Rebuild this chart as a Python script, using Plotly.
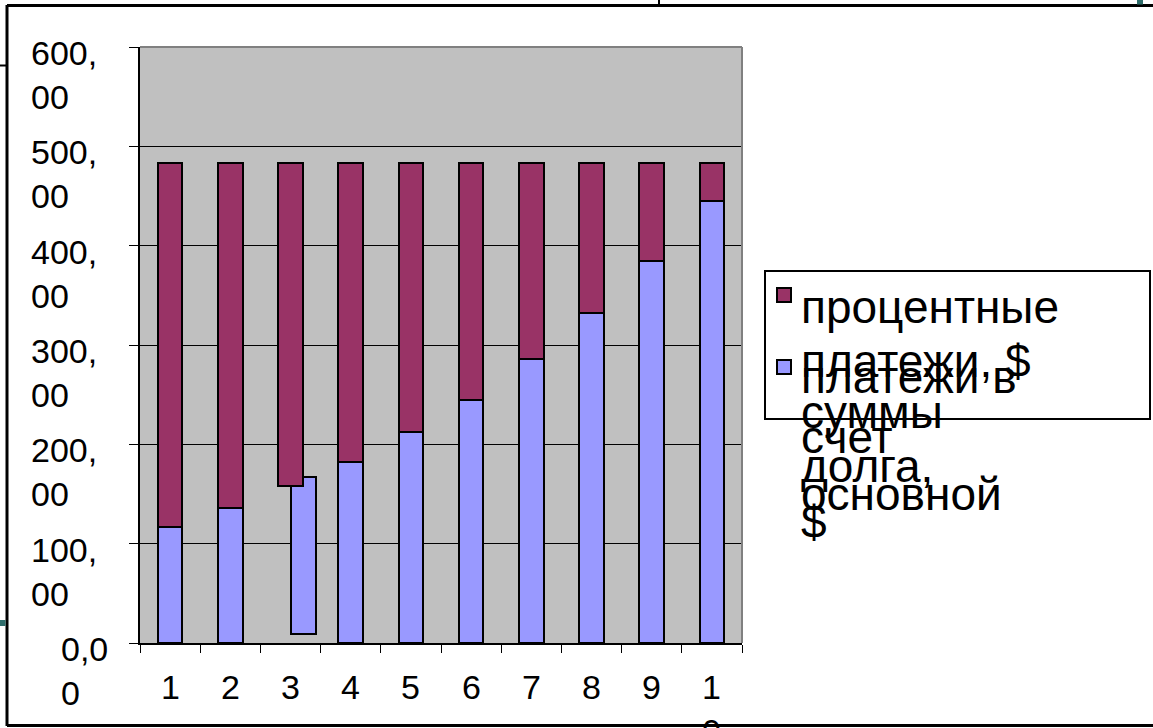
import plotly.graph_objects as go

# ---- data ----
periods = [1, 2, 3, 4, 5, 6, 7, 8, 9, 10]
period_labels = ["1", "2", "3", "4", "5", "6", "7", "8", "9", "1<br>0"]
principal = [117, 136, 158, 182, 212, 245, 286, 332, 385, 445]      # платежи в счет основной суммы долга, $
interest = [366, 347, 325, 301, 271, 238, 197, 151, 98, 38]         # процентные платежи, $
principal_float = [0, 0, 9, 0, 0, 0, 0, 0, 0, 0]                    # bar 3 blue part floats above zero in the original
y_ticks = [0, 100, 200, 300, 400, 500, 600]
y_tick_labels = ["0,0<br>0", "100,<br>00", "200,<br>00", "300,<br>00", "400,<br>00", "500,<br>00", "600,<br>00"]
legend_lines_interest = ["процентные", "платежи, $"]
legend_lines_principal = ["платежи в", "суммы", "счет", "долга,", "основной", "$"]

# ---- geometry (pixels) ----
W, H = 1153, 728
L, R, T, B = 140, 742, 47, 643
FONT = "Arial, 'Liberation Sans', sans-serif"
MAROON = "#993366"
BLUE = "#9999FF"
TEAL = "#2F6E6C"


def px(x):
    return (x - L) / (R - L)


def py(y):
    return (B - y) / (B - T)


bar_w = 0.41
shift_idx = 2
shift_amt = 0.215
blue_offsets = [-bar_w / 2 + (shift_amt if i == shift_idx else 0) for i in range(len(periods))]

fig = go.Figure()
fig.add_trace(go.Bar(
    x=periods, y=principal, base=principal_float, width=bar_w, offset=blue_offsets,
    marker=dict(color=BLUE, line=dict(color="black", width=2)),
    showlegend=False, name="платежи в счет основной суммы долга, $"))
fig.add_trace(go.Bar(
    x=periods, y=interest, base=principal, width=bar_w, offset=[-bar_w / 2] * len(periods),
    marker=dict(color=MAROON, line=dict(color="black", width=2)),
    showlegend=False, name="процентные платежи, $"))

shapes = []
# plot-area grey border (top and right)
shapes.append(dict(type="line", xref="paper", yref="paper", x0=0, x1=1, y0=1, y1=1,
                   line=dict(color="#808080", width=2)))
shapes.append(dict(type="line", xref="paper", yref="paper", x0=1, x1=1, y0=0, y1=1,
                   line=dict(color="#808080", width=2)))
# slide frame
shapes.append(dict(type="line", xref="paper", yref="paper", x0=px(7), x1=px(1160), y0=py(5.5), y1=py(5.5),
                   line=dict(color="black", width=3)))
shapes.append(dict(type="line", xref="paper", yref="paper", x0=px(7), x1=px(7), y0=py(5), y1=py(726),
                   line=dict(color="black", width=3)))
shapes.append(dict(type="line", xref="paper", yref="paper", x0=px(7), x1=px(1160), y0=py(725.5), y1=py(725.5),
                   line=dict(color="black", width=3)))
# small slide decorations
shapes.append(dict(type="line", xref="paper", yref="paper", x0=px(0), x1=px(7), y0=py(65.5), y1=py(65.5),
                   line=dict(color="black", width=2)))
shapes.append(dict(type="rect", xref="paper", yref="paper", x0=px(0), x1=px(5.5), y0=py(620), y1=py(626),
                   line=dict(width=0), fillcolor=TEAL))
shapes.append(dict(type="rect", xref="paper", yref="paper", x0=px(1137), x1=px(1143), y0=py(0), y1=py(4.5),
                   line=dict(width=0), fillcolor=TEAL))
shapes.append(dict(type="line", xref="paper", yref="paper", x0=px(659), x1=px(659), y0=py(0), y1=py(5),
                   line=dict(color="black", width=2)))
# legend box and keys
shapes.append(dict(type="rect", xref="paper", yref="paper", x0=px(765), x1=px(1150), y0=py(271), y1=py(419),
                   line=dict(color="black", width=2), fillcolor="white"))
shapes.append(dict(type="rect", xref="paper", yref="paper", x0=px(777), x1=px(791), y0=py(288), y1=py(302),
                   line=dict(color="black", width=2), fillcolor=MAROON))
shapes.append(dict(type="rect", xref="paper", yref="paper", x0=px(777), x1=px(791), y0=py(360), y1=py(374),
                   line=dict(color="black", width=2), fillcolor=BLUE))

annotations = []
AX = 34
# y tick labels
for v, t in zip(y_ticks, y_tick_labels):
    annotations.append(dict(text=t, xref="paper", yref="y", x=px(59 if v == 0 else 29), y=v,
                            xanchor="left", yanchor="middle", yshift=-28, align="left",
                            showarrow=False, font=dict(family=FONT, size=AX, color="black")))
# x tick labels
for xv, t in zip(periods, period_labels):
    nlines = t.count("<br>") + 1
    base_line = 699
    center = base_line - 0.35 * AX + (nlines - 1) * 0.65 * AX
    annotations.append(dict(text=t, xref="x", yref="paper", x=xv, y=py(center),
                            xanchor="center", yanchor="middle", align="center",
                            showarrow=False, font=dict(family=FONT, size=AX, color="black")))
# legend texts
LG = 46
interest_baselines = [323, 377]
principal_baselines = [393, 428, 453, 482, 510, 538]
for txt, bl in list(zip(legend_lines_interest, interest_baselines)) + list(zip(legend_lines_principal, principal_baselines)):
    annotations.append(dict(text=txt, xref="paper", yref="paper", x=px(799), y=py(bl - 0.35 * LG),
                            xanchor="left", yanchor="middle", align="left",
                            showarrow=False, font=dict(family=FONT, size=LG, color="black")))

fig.update_layout(
    width=W, height=H,
    margin=dict(l=L, r=W - R, t=T, b=H - B, pad=0),
    paper_bgcolor="white", plot_bgcolor="#C0C0C0",
    barmode="overlay", bargap=0,
    xaxis=dict(range=[0.5, 10.5], tickvals=[i + 0.5 for i in range(0, 11)], showticklabels=False,
               ticks="outside", ticklen=8, tickwidth=1, tickcolor="black",
               showline=True, linecolor="black", linewidth=2, showgrid=False, zeroline=False, fixedrange=True),
    yaxis=dict(range=[0, 600], tickvals=y_ticks, showticklabels=False,
               ticks="outside", ticklen=9, tickwidth=1, tickcolor="black",
               showline=True, linecolor="black", linewidth=2, showgrid=True, gridcolor="black", gridwidth=1,
               zeroline=False, fixedrange=True),
    shapes=shapes, annotations=annotations, showlegend=False,
)

fig.write_html("out.html", config={"displayModeBar": False})
